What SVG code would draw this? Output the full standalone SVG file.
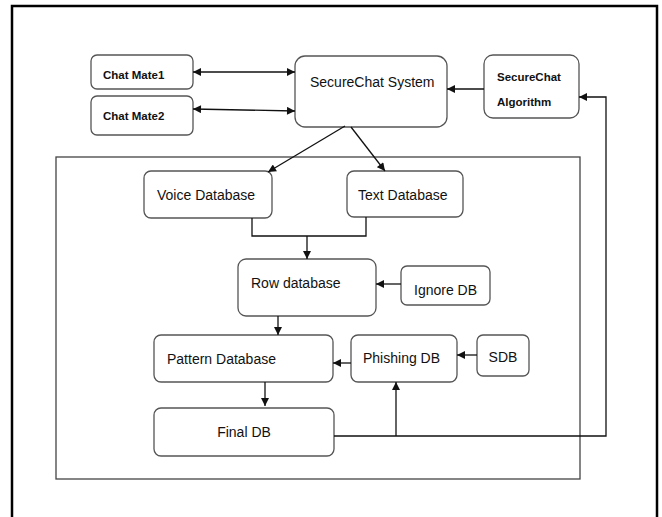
<svg xmlns="http://www.w3.org/2000/svg" width="662" height="517" viewBox="0 0 662 517">
<style>
.node rect{fill:#fff;stroke:#555;stroke-width:1.3}
.t{font-family:"Liberation Sans",Arial,sans-serif;font-size:14px;fill:#111}
.b{font-family:"Liberation Sans",Arial,sans-serif;font-size:11.5px;font-weight:bold;fill:#111}
.c{fill:none;stroke:#111;stroke-width:1.3}
</style>
<defs>
<marker id="ah" viewBox="0 0 10 10" refX="10" refY="5" markerWidth="9" markerHeight="8" markerUnits="userSpaceOnUse" orient="auto-start-reverse">
<path d="M0,0 L10,5 L0,10 z" fill="#111"/>
</marker>
</defs>
<rect x="0" y="0" width="662" height="517" fill="#fff"/>
<rect id="frame" x="12" y="6" width="645" height="520" fill="none" stroke="#000" stroke-width="2.5"/>
<rect id="container" x="56" y="157" width="524" height="322" fill="none" stroke="#444" stroke-width="1.3"/>

<g id="chatmate1" class="node"><rect x="91" y="55" width="102" height="34" rx="6"/><text class="b" x="103" y="79">Chat Mate1</text></g>
<g id="chatmate2" class="node"><rect x="91" y="96" width="102" height="39" rx="6"/><text class="b" x="103" y="120">Chat Mate2</text></g>
<g id="system" class="node"><rect x="295" y="56" width="152" height="71" rx="10"/><text class="t" x="310" y="87">SecureChat System</text></g>
<g id="algorithm" class="node"><rect x="484" y="55" width="95" height="63" rx="9"/><text class="b" x="497" y="81">SecureChat</text><text class="b" x="497" y="106">Algorithm</text></g>
<g id="voice" class="node"><rect x="144" y="171" width="128" height="47" rx="7"/><text class="t" x="157" y="200">Voice Database</text></g>
<g id="text" class="node"><rect x="347" y="171" width="116" height="46" rx="7"/><text class="t" x="358" y="200">Text Database</text></g>
<g id="row" class="node"><rect x="238" y="259" width="138" height="57" rx="8"/><text class="t" x="251" y="288">Row database</text></g>
<g id="ignore" class="node"><rect x="401" y="266" width="89" height="39" rx="6"/><text class="t" x="414" y="295">Ignore DB</text></g>
<g id="pattern" class="node"><rect x="154" y="335" width="179" height="47" rx="7"/><text class="t" x="167" y="364">Pattern Database</text></g>
<g id="phishing" class="node"><rect x="351" y="335" width="106" height="47" rx="7"/><text class="t" x="363" y="363">Phishing DB</text></g>
<g id="sdb" class="node"><rect x="477" y="335" width="52" height="41" rx="6"/><text class="t" x="503" y="362" text-anchor="middle">SDB</text></g>
<g id="final" class="node"><rect x="154" y="408" width="180" height="48" rx="7"/><text class="t" x="244" y="437" text-anchor="middle">Final DB</text></g>

<g id="connectors" class="c">
<line x1="193" y1="72" x2="295" y2="72" marker-start="url(#ah)" marker-end="url(#ah)"/>
<line x1="193" y1="109" x2="295" y2="111" marker-start="url(#ah)" marker-end="url(#ah)"/>
<line x1="484" y1="89" x2="447" y2="89" marker-end="url(#ah)"/>
<line x1="345" y1="126" x2="268" y2="172" marker-end="url(#ah)"/>
<line x1="351" y1="127" x2="385" y2="171" marker-end="url(#ah)"/>
<polyline points="252,218 252,236 366,236 366,217"/>
<line x1="307" y1="236" x2="307" y2="259" marker-end="url(#ah)"/>
<line x1="401" y1="284" x2="376" y2="284" marker-end="url(#ah)"/>
<line x1="278" y1="316" x2="278" y2="335" marker-end="url(#ah)"/>
<line x1="351" y1="363" x2="333" y2="363" marker-end="url(#ah)"/>
<line x1="477" y1="355" x2="457" y2="355" marker-end="url(#ah)"/>
<line x1="265" y1="382" x2="265" y2="406" marker-end="url(#ah)"/>
<polyline points="334,436 606,436 606,97 579,97" marker-end="url(#ah)"/>
<line x1="396" y1="436" x2="396" y2="382" marker-end="url(#ah)"/>
</g>
</svg>
